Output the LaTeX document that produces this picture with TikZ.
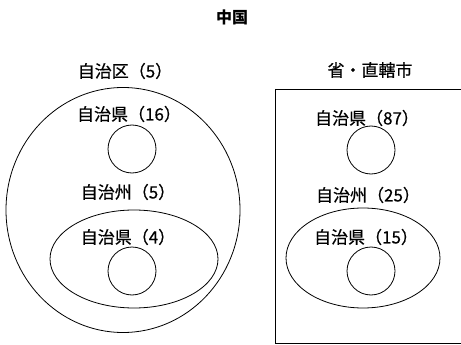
\documentclass[tikz,border=0pt]{standalone}
\usepackage{fontspec}
\setmainfont{Noto Sans CJK JP}
\newfontfamily\medfont[FakeBold=0.6]{Noto Sans CJK JP}
\usetikzlibrary{shapes.geometric}
\tikzset{
  lbl/.style={font=\medfont\fontsize{17}{18}\selectfont, inner sep=0pt, anchor=center},
  ring/.style={draw, line width=0.8pt, circle, minimum size=48pt, inner sep=0pt},
  oval/.style={draw, line width=0.8pt, ellipse, inner sep=0pt},
}
\begin{document}
\begin{tikzpicture}[x=1pt,y=-1pt]
\useasboundingbox (0,0) rectangle (461,345);
\node[lbl, font=\fontsize{16}{18}\selectfont\bfseries] (title) at (232,17) {中国};
% left group
\node[lbl] (zq) at (125,71) {自治区（5）};
\node[oval, minimum width=234pt, minimum height=245pt] (big) at (123,210) {};
\node[lbl] (x16) at (129,114) {自治県（16）};
\node[ring] (c1) at (132,149) {};
\node[lbl] (z5) at (128,192) {自治州（5）};
\node[oval, minimum width=168pt, minimum height=98pt] (e1) at (134,259) {};
\node[lbl] (x4) at (128,237) {自治県（4）};
\node[ring] (c2) at (132,271) {};
% right group
\node[lbl] (sheng) at (370,70) {省・直轄市};
\coordinate (tr) at (461,89);
\coordinate (tl) at (275,89);
\coordinate (bl) at (275,343);
\coordinate (br) at (461,343);
\draw[line width=0.8pt] (tl) -- (tr);
\draw[line width=0.8pt] (tl) -- (bl);
\draw[line width=0.8pt] (bl) -- (br);
\node[lbl] (x87) at (367,118) {自治県（87）};
\node[ring] (c3) at (371,150) {};
\node[lbl] (z25) at (368,195) {自治州（25）};
\node[oval, minimum width=154pt, minimum height=100pt] (e2) at (363,258) {};
\node[lbl] (x15) at (366,237) {自治県（15）};
\node[ring] (c4) at (371,271) {};
\end{tikzpicture}
\end{document}
